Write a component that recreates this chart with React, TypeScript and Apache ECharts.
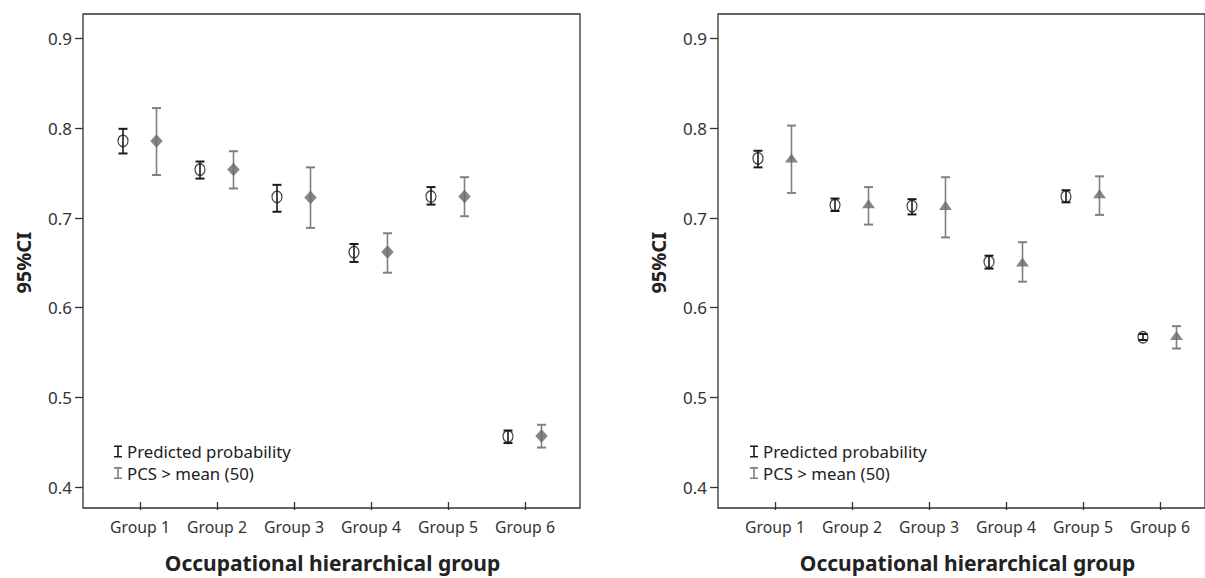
import React, { useEffect, useRef } from "react";
import * as echarts from "echarts";

const groups = ["Group 1", "Group 2", "Group 3", "Group 4", "Group 5", "Group 6"];
const yMin = 0.4;
const yMax = 0.9;
const yStep = 0.1;
const xTitle = "Occupational hierarchical group";
const yTitle = "95%CI";
const legendNames = ["Predicted probability", "PCS > mean (50)"];

// Left panel
const leftPredMean = [0.786, 0.754, 0.7235, 0.662, 0.724, 0.4565];
const leftPredLow = [0.772, 0.744, 0.707, 0.651, 0.715, 0.449];
const leftPredHigh = [0.7995, 0.763, 0.737, 0.671, 0.7345, 0.463];
const leftPcsMean = [0.786, 0.754, 0.723, 0.662, 0.724, 0.457];
const leftPcsLow = [0.748, 0.733, 0.689, 0.639, 0.702, 0.444];
const leftPcsHigh = [0.8226, 0.7745, 0.7565, 0.683, 0.7455, 0.4694];

// Right panel
const rightPredMean = [0.7665, 0.7144, 0.7133, 0.651, 0.724, 0.567];
const rightPredLow = [0.7565, 0.7078, 0.704, 0.6436, 0.7175, 0.564];
const rightPredHigh = [0.775, 0.7217, 0.721, 0.658, 0.731, 0.5706];
const rightPcsMean = [0.767, 0.716, 0.714, 0.651, 0.727, 0.569];
const rightPcsLow = [0.728, 0.6927, 0.6784, 0.629, 0.7035, 0.5545];
const rightPcsHigh = [0.8031, 0.7345, 0.7455, 0.673, 0.7465, 0.5794];

const FONT = "'Noto Sans', 'Open Sans', sans-serif";
const BLACK = "#1a1a1a";
const GRAY = "#808080";
const MARK = "#686868";
const IBEAM = "path://M0,0H8V1.6H4.8V10.4H8V12H0V10.4H3.2V1.6H0Z";

const PRED_OFF = -17;
const PCS_OFF = 16.5;

function errSeries(name: string, axis: number, low: number[], high: number[], offset: number, color: string) {
  return {
    type: "custom",
    name,
    xAxisIndex: axis,
    yAxisIndex: axis,
    data: low.map((l, i) => [i, l, high[i]]),
    encode: { x: 0, y: [1, 2] },
    z: 2,
    renderItem: (params: any, api: any) => {
      const i = api.value(0);
      const p1 = api.coord([i, api.value(1)]);
      const p2 = api.coord([i, api.value(2)]);
      const x = p1[0] + offset;
      const hw = 4.5;
      return {
        type: "group",
        children: [
          { type: "line", shape: { x1: x, y1: p1[1], x2: x, y2: p2[1] }, style: { stroke: color, lineWidth: 1.6 } },
          { type: "line", shape: { x1: x - hw, y1: p1[1], x2: x + hw, y2: p1[1] }, style: { stroke: color, lineWidth: 2 } },
          { type: "line", shape: { x1: x - hw, y1: p2[1], x2: x + hw, y2: p2[1] }, style: { stroke: color, lineWidth: 2 } },
        ],
      };
    },
  };
}

function markSeries(axis: number, vals: number[], symbol: string, size: number[], offset: number, style: any) {
  return {
    type: "scatter",
    name: "m" + axis + symbol,
    xAxisIndex: axis,
    yAxisIndex: axis,
    data: vals.map((v, i) => [i, v]),
    symbol,
    symbolSize: size,
    symbolOffset: [offset, 0],
    itemStyle: style,
    z: 3,
  };
}

function panel(frameLeft: number, dataLeft: number) {
  const frameTop = 14;
  const frameH = 494;
  const dataTop = 38.7;
  const dataH = 454.3;
  const grids = [
    { left: frameLeft, top: frameTop, width: 497, height: frameH, show: true, borderColor: "#333", borderWidth: 1.3, backgroundColor: "transparent" },
    { left: dataLeft, top: dataTop, width: 462, height: dataH },
  ];
  return { grids, xOff: frameTop + frameH - (dataTop + dataH), yOff: dataLeft - frameLeft };
}

export default function App() {
  const ref = useRef<HTMLDivElement>(null);
  useEffect(() => {
    if (!ref.current) return;
    const chart = echarts.init(ref.current, undefined, { renderer: "svg" });
    const L = panel(83, 101.5);
    const R = panel(718, 736.5);

    const hiddenX = (g: number) => ({ type: "value", gridIndex: g, show: false, min: 0, max: 1 });
    const hiddenY = (g: number) => ({ type: "value", gridIndex: g, show: false, min: 0, max: 1 });
    const dataX = (g: number, off: number) => ({
      type: "category",
      gridIndex: g,
      data: groups,
      boundaryGap: true,
      offset: off,
      axisLine: { show: false },
      axisTick: { show: true, interval: 0, alignWithLabel: true, length: 8, lineStyle: { color: "#333", width: 1.3 } },
      axisLabel: { interval: 0, hideOverlap: false, fontSize: 15.8, color: "#333", margin: 17, fontFamily: FONT },
      name: xTitle,
      nameLocation: "middle",
      nameGap: 50,
      nameTextStyle: { fontSize: 21, fontWeight: "bold", color: "#222", fontFamily: FONT },
    });
    const dataY = (g: number, off: number) => ({
      type: "value",
      gridIndex: g,
      min: yMin,
      max: yMax,
      interval: yStep,
      offset: off,
      splitLine: { show: false },
      axisLine: { show: false },
      axisTick: { show: true, length: 8, lineStyle: { color: "#333", width: 1.3 } },
      axisLabel: { fontSize: 17, color: "#333", margin: 11, fontFamily: FONT, formatter: (v: number) => v.toFixed(1) },
      name: yTitle,
      nameLocation: "middle",
      nameGap: 50,
      nameTextStyle: { fontSize: 20, fontWeight: "bold", color: "#222", fontFamily: FONT },
    });

    const legend = (left: number) => ({
      orient: "vertical",
      left,
      top: 437.5,
      itemWidth: 8,
      itemHeight: 12,
      itemGap: 3.6,
      selectedMode: false,
      textStyle: { fontSize: 16.8, color: "#222", fontFamily: FONT, lineHeight: 18 },
      data: [
        { name: legendNames[0], icon: IBEAM, itemStyle: { color: BLACK } },
        { name: legendNames[1], icon: IBEAM, itemStyle: { color: GRAY } },
      ],
    });

    const circleStyle = { color: "rgba(0,0,0,0)", borderColor: BLACK, borderWidth: 1.3 };
    const markStyle = { color: MARK, borderWidth: 0 };

    chart.setOption({
      animation: false,
      backgroundColor: "#ffffff",
      textStyle: { fontFamily: FONT },
      grid: [...L.grids, ...R.grids],
      xAxis: [hiddenX(0), dataX(1, L.xOff), hiddenX(2), dataX(3, R.xOff)],
      yAxis: [hiddenY(0), dataY(1, L.yOff), hiddenY(2), dataY(3, R.yOff)],
      legend: [legend(109), legend(745)],
      series: [
        errSeries(legendNames[0], 1, leftPredLow, leftPredHigh, PRED_OFF, BLACK),
        errSeries(legendNames[1], 1, leftPcsLow, leftPcsHigh, PCS_OFF, GRAY),
        markSeries(1, leftPredMean, "circle", [10, 11.5], PRED_OFF, circleStyle),
        markSeries(1, leftPcsMean, "diamond", [12.5, 13.5], PCS_OFF, markStyle),
        errSeries(legendNames[0], 3, rightPredLow, rightPredHigh, PRED_OFF, BLACK),
        errSeries(legendNames[1], 3, rightPcsLow, rightPcsHigh, PCS_OFF, GRAY),
        markSeries(3, rightPredMean, "circle", [10, 11.5], PRED_OFF, circleStyle),
        markSeries(3, rightPcsMean, "triangle", [13, 9], PCS_OFF, markStyle),
      ],
    });
    return () => chart.dispose();
  }, []);
  return (
    <div
      ref={ref}
      style={{ position: "fixed", left: 0, top: 0, width: 1205, height: 578, background: "#fff" }}
    />
  );
}
